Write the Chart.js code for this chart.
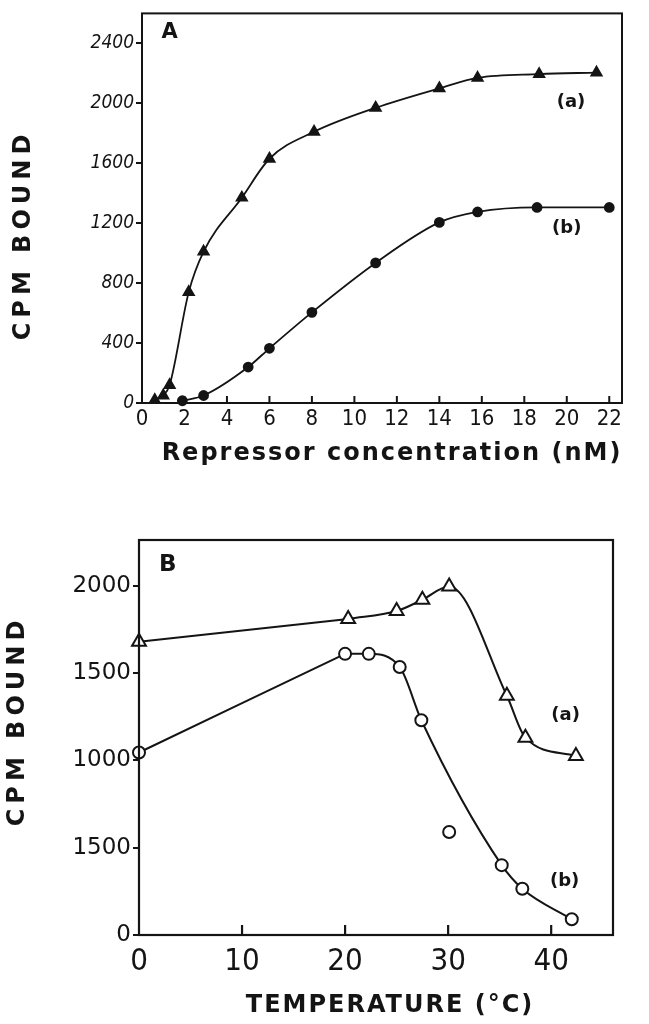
<!DOCTYPE html>
<html>
<head>
<meta charset="utf-8">
<script src="https://cdn.jsdelivr.net/npm/chart.js@4.4.1/dist/chart.umd.min.js"></script>
<style>
  html, body { margin: 0; padding: 0; background: #fff; }
  body { width: 649px; height: 1024px; position: relative; overflow: hidden; }
  .c-panel { position: absolute; left: 0; width: 649px; }
  .c-panel--a { top: 0; height: 480px; }
  .c-panel--b { top: 520px; height: 504px; }
</style>
</head>
<body>
<div class="c-panel c-panel--a"><canvas id="chartA"></canvas></div>
<div class="c-panel c-panel--b"><canvas id="chartB"></canvas></div>
<script>
// panel A : binding vs repressor concentration
const concA_a = [0.6, 1.0, 1.3, 2.2, 2.9, 4.7, 6.0, 8.1, 11.0, 14.0, 15.8, 18.7, 21.4];
const cpmA_a = [20, 50, 120, 740, 1010, 1370, 1630, 1810, 1970, 2100, 2170, 2195, 2205];
const concA_b = [1.9, 2.9, 5.0, 6.0, 8.0, 11.0, 14.0, 15.8, 18.6, 22.0];
const cpmA_b = [15, 50, 240, 365, 605, 935, 1205, 1275, 1305, 1305];
const xTicksA = [0, 2, 4, 6, 8, 10, 12, 14, 16, 18, 20, 22];
const yTicksA = [0, 400, 800, 1200, 1600, 2000, 2400];

// panel B : binding vs temperature
const tempB_a = [0, 20.3, 25.0, 27.5, 30.1, 35.7, 37.5, 42.4];
const cpmB_a = [1680, 1810, 1855, 1920, 1995, 1370, 1130, 1025];
const tempB_b = [0, 20.0, 22.3, 25.3, 27.4, 30.1, 35.2, 37.2, 42.0];
const cpmB_b = [1045, 1610, 1610, 1535, 1230, 590, 400, 265, 90];
const offCurveB_b = [30.1]; // point that the drawn curve misses
const straightUntilB = 20.3; // first segment of both curves is a ruler line
const xTicksB = [0, 10, 20, 30, 40];
const yTicksB = [0, 500, 1000, 1500, 2000];
const yTickLabelsB = ['0', '1500', '1000', '1500', '2000'];

const ink = '#141414';
const titleFont = "'DejaVu Sans', 'Open Sans', sans-serif";
const narrowFont = "'Liberation Sans Narrow', 'DejaVu Sans Condensed', sans-serif";

const toPoints = function (xs, ys) {
  return xs.map((v, i) => ({ x: v, y: ys[i] }));
};

// split a series in a straight start and a smooth rest (they share one point)
const splitCurve = function (xs, ys, skip) {
  const pts = toPoints(xs, ys).filter(p => !skip.includes(p.x));
  const cut = pts.filter(p => p.x <= straightUntilB).length - 1;
  return [pts.slice(0, cut + 1), pts.slice(cut)];
};

const drawText = function (ctx, t, angle) {
  ctx.save();
  ctx.translate(t.x, t.y);
  if (angle) ctx.rotate(angle);
  ctx.font = t.font;
  ctx.letterSpacing = t.spacing || '0px';
  ctx.fillText(t.text, 0, 0);
  ctx.restore();
};

// box round the plot, inward x ticks, panel letters and axis titles
const framePlugin = {
  id: 'frame',
  afterDatasetsDraw(chart, args, opts) {
    const { ctx, chartArea: a, scales: { x, y } } = chart;
    ctx.save();
    ctx.strokeStyle = ink;
    ctx.lineWidth = opts.lineWidth;
    ctx.strokeRect(a.left, a.top, a.right - a.left, a.bottom - a.top);
    for (const t of x.ticks) {
      const px = x.getPixelForValue(t.value);
      if (px <= a.left + 2) continue;
      ctx.beginPath();
      ctx.moveTo(px, a.bottom);
      ctx.lineTo(px, a.bottom - opts.tickLen);
      ctx.stroke();
    }
    ctx.fillStyle = ink;
    ctx.textAlign = 'center';
    ctx.textBaseline = 'middle';
    for (const n of opts.notes) {
      drawText(ctx, { text: n.text, font: n.font, x: x.getPixelForValue(n.x), y: y.getPixelForValue(n.y) });
    }
    drawText(ctx, opts.xTitle);
    drawText(ctx, opts.yTitle, -Math.PI / 2);
    ctx.restore();
  }
};

const makeChart = function (id, cfg) {
  return new Chart(document.getElementById(id), {
    type: 'line',
    data: { datasets: cfg.datasets },
    plugins: [framePlugin],
    options: {
      responsive: true,
      maintainAspectRatio: false,
      animation: false,
      layout: { padding: cfg.padding },
      plugins: {
        legend: { display: false },
        tooltip: { enabled: false },
        frame: cfg.frame
      },
      scales: {
        x: {
          type: 'linear',
          min: 0,
          max: cfg.xMax,
          afterBuildTicks: s => { s.ticks = cfg.xTicks.map(v => ({ value: v })); },
          afterFit: s => { s.height = cfg.xHeight; },
          grid: { display: false, drawTicks: false },
          border: { display: false },
          ticks: { color: ink, padding: cfg.xPad, font: cfg.xFont, maxRotation: 0 }
        },
        y: {
          type: 'linear',
          min: 0,
          max: cfg.yMax,
          afterBuildTicks: s => { s.ticks = cfg.yTicks.map(v => ({ value: v })); },
          afterFit: s => { s.width = cfg.yWidth; },
          grid: { drawOnChartArea: false, drawTicks: true, tickLength: 6, color: ink, lineWidth: 2 },
          border: { display: false },
          ticks: { color: ink, padding: 2, font: cfg.yFont, callback: cfg.yLabel }
        }
      }
    }
  });
};

document.addEventListener('DOMContentLoaded', function () {
  const lineA = { borderColor: ink, backgroundColor: ink, borderWidth: 1.8, cubicInterpolationMode: 'monotone', clip: false };

  makeChart('chartA', {
    padding: { top: 13, right: 27, bottom: 12, left: 0 },
    xMax: 22.6, yMax: 2600, xHeight: 65, yWidth: 142, xPad: 3,
    xTicks: xTicksA, yTicks: yTicksA,
    xFont: { family: narrowFont, size: 22 },
    yFont: { family: "'DejaVu Sans Condensed', 'DejaVu Sans', sans-serif", size: 19, style: 'italic' },
    datasets: [
      Object.assign({ data: toPoints(concA_a, cpmA_a), pointStyle: 'triangle', pointRadius: 6 }, lineA),
      Object.assign({ data: toPoints(concA_b, cpmA_b), pointStyle: 'circle', pointRadius: 4.5 }, lineA)
    ],
    frame: {
      lineWidth: 2, tickLen: 7,
      notes: [
        { text: 'A', x: 1.3, y: 2470, font: `bold 21px ${titleFont}` },
        { text: '(a)', x: 20.2, y: 2007, font: `bold 18px ${titleFont}` },
        { text: '(b)', x: 20.0, y: 1163, font: `bold 18px ${titleFont}` }
      ],
      xTitle: { text: 'Repressor concentration (nM)', x: 392, y: 454, font: `bold 24px ${titleFont}`, spacing: '2px' },
      yTitle: { text: 'CPM BOUND', x: 24, y: 235, font: `bold 24px ${titleFont}`, spacing: '5px' }
    }
  });

  const [straightB_a, smoothB_a] = splitCurve(tempB_a, cpmB_a, []);
  const [straightB_b, smoothB_b] = splitCurve(tempB_b, cpmB_b, offCurveB_b);
  const curveB = { order: 1, clip: false, pointRadius: 0, borderColor: ink, borderWidth: 2, cubicInterpolationMode: 'monotone' };
  const markB = { showLine: false, order: 0, clip: false, borderWidth: 2, borderColor: ink, backgroundColor: '#fff' };

  makeChart('chartB', {
    padding: { top: 20, right: 36, bottom: 5, left: 0 },
    xMax: 46, yMax: 2262, xHeight: 84, yWidth: 139, xPad: 8,
    xTicks: xTicksB, yTicks: yTicksB,
    xFont: { family: narrowFont, size: 31 },
    yFont: { family: titleFont, size: 23 },
    yLabel: (v, i) => yTickLabelsB[i],
    datasets: [
      Object.assign({ data: toPoints(tempB_b, cpmB_b), pointStyle: 'circle', pointRadius: 6 }, markB),
      Object.assign({ data: toPoints(tempB_a, cpmB_a), pointStyle: 'triangle', pointRadius: 8 }, markB),
      Object.assign({ data: straightB_a }, curveB),
      Object.assign({ data: smoothB_a }, curveB),
      Object.assign({ data: straightB_b }, curveB),
      Object.assign({ data: smoothB_b }, curveB)
    ],
    frame: {
      lineWidth: 2.2, tickLen: 10,
      notes: [
        { text: 'B', x: 2.8, y: 2119, font: `bold 23px ${titleFont}` },
        { text: '(a)', x: 41.4, y: 1260, font: `bold 18px ${titleFont}` },
        { text: '(b)', x: 41.3, y: 305, font: `bold 18px ${titleFont}` }
      ],
      xTitle: { text: 'TEMPERATURE (°C)', x: 390, y: 486, font: `bold 24px ${titleFont}`, spacing: '2px' },
      yTitle: { text: 'CPM BOUND', x: 18, y: 201, font: `bold 24px ${titleFont}`, spacing: '5px' }
    }
  });
});
</script>
</body>
</html>
